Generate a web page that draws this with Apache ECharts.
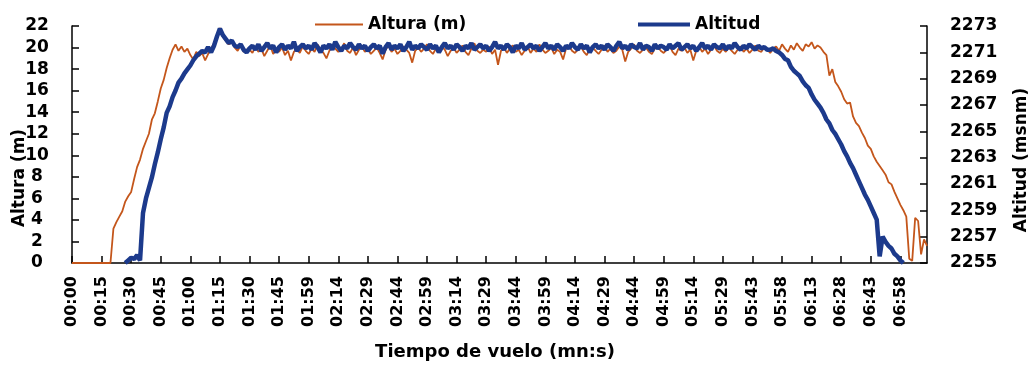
<!DOCTYPE html>
<html>
<head>
<meta charset="utf-8">
<script src="https://cdn.jsdelivr.net/npm/echarts@6/dist/echarts.min.js"></script>
<style>
  html, body { margin: 0; padding: 0; background: #fff; }
  #chart { width: 1034px; height: 368px; }
</style>
</head>
<body>
<div id="chart"></div>
<script>
// Flight profile: height above ground (left) vs GPS altitude (right)

const tickLabels = [
  '00:00', '00:15', '00:30', '00:45', '01:00', '01:15', '01:30', '01:45', '01:59', '02:14',
  '02:29', '02:44', '02:59', '03:14', '03:29', '03:44', '03:59', '04:14', '04:29', '04:44',
  '04:59', '05:14', '05:29', '05:43', '05:58', '06:13', '06:28', '06:43', '06:58',
];
const STEP = 10; // samples between two tick labels

// Altura (m), one sample every ~1.5 s
const altura = [
  0, 0, 0, 0, 0, 0, 0, 0, 0, 0, 0, 0, 0, 0,
  3.2, 3.8, 4.3, 4.8, 5.7, 6.2, 6.6, 7.8, 8.9, 9.6, 10.6, 11.3, 12.0, 13.3, 13.9, 15.0,
  16.2, 17.0, 18.1, 19.0, 19.8, 20.3, 19.7, 20.1, 19.6, 19.9, 19.3, 18.9, 19.6, 19.2, 19.5,
  18.8, 19.4, 19.9, 20.4, 21.2, 21.8, 21.0, 20.6, 20.3, 20.5, 20.0, 19.7, 20.2, 19.6, 19.8,
  19.8, 19.5, 20.1, 19.6, 19.9, 19.2, 19.7, 20.2, 19.4, 19.8, 19.6, 20.0, 19.3, 19.7, 18.8, 19.6, 19.9, 19.5, 20.1, 19.7,
  19.4, 19.9, 19.6, 20.3, 19.8, 19.5, 19.0, 19.7, 20.2, 19.9, 19.6, 19.8, 20.4, 19.7, 19.5, 20.0, 19.3, 19.8, 20.1, 19.6,
  19.9, 19.4, 19.7, 20.0, 19.5, 18.9, 19.8, 20.2, 19.6, 19.9, 19.4, 19.7, 20.1, 19.8, 19.5, 18.6, 19.7, 20.0, 19.6, 19.9,
  20.3, 19.7, 19.4, 19.9, 19.6, 20.1, 19.8, 19.2, 19.7, 20.0, 19.5, 19.8, 20.2, 19.6, 19.3, 19.9, 20.4, 19.7, 19.5, 19.8,
  19.6, 20.1, 19.4, 19.8, 18.4, 19.7, 20.0, 19.5, 19.9, 20.2, 19.6, 19.8, 19.3, 19.7, 20.1, 19.5, 19.9, 19.6, 20.3, 19.8,
  19.5, 19.7, 20.0, 19.4, 19.8, 19.6, 18.9, 19.9, 20.2, 19.7, 19.5, 19.8, 20.1, 19.6, 19.3, 19.9, 20.0, 19.7, 19.4, 19.8,
  20.2, 19.6, 19.9, 19.5, 19.7, 20.1, 19.8, 18.7, 19.6, 19.9, 20.3, 19.7, 19.5, 19.8, 20.0, 19.6, 19.4, 19.9, 20.1, 19.7,
  19.5, 19.8, 20.2, 19.6, 19.3, 19.9, 19.7, 20.0, 19.5, 19.8, 18.8, 19.7, 20.1, 19.6, 19.9, 19.4, 19.8, 20.2, 19.7, 19.5,
  19.9, 19.6, 20.0, 19.7, 19.4, 19.8, 20.1, 19.6, 19.9, 19.5, 19.8, 20.2, 19.7, 19.6, 20.0, 19.8, 19.5, 19.9, 20.1, 19.7,
  20.3, 19.9, 19.6, 20.2, 19.8, 20.4, 20.0, 19.7, 20.3, 20.1, 20.5, 19.9, 20.2,
  20.0, 19.6, 19.3, 17.4, 18.0, 16.8, 16.4, 15.9, 15.2, 14.8, 14.9, 13.6, 13.0, 12.7, 12.1,
  11.6, 10.9, 10.6, 9.9, 9.4, 9.0, 8.6, 8.2, 7.5, 7.3, 6.6, 6.0, 5.4, 4.9, 4.3,
  0.4, 0.2, 4.2, 3.9, 0.8, 2.2, 1.6,
];

// Altitud (msnm), same samples
const altitud = [
  null, null, null, null, null, null, null, null, null, null, null, null, null, null, null, null, null, null,
  2255.0, 2255.2, 2255.4, 2255.3, 2255.6, 2255.2,
  2258.8, 2259.9, 2260.7, 2261.5, 2262.5, 2263.4, 2264.4, 2265.3, 2266.4, 2266.9, 2267.6, 2268.1,
  2268.7, 2269.0, 2269.4, 2269.7, 2270.0, 2270.4, 2270.7, 2270.9, 2271.1, 2271.0, 2271.4, 2271.0,
  2271.5, 2272.2, 2272.8, 2272.3, 2272.0, 2271.7, 2271.9, 2271.5, 2271.4, 2271.6, 2271.2, 2271.0,
  2271.3, 2271.5, 2271.2, 2271.6, 2271.1, 2271.4, 2271.7, 2271.3, 2271.5, 2271.0, 2271.4, 2271.6, 2271.2, 2271.5, 2271.3, 2271.8, 2271.1, 2271.4, 2271.6, 2271.3,
  2271.5, 2271.2, 2271.7, 2271.4, 2271.0, 2271.5, 2271.3, 2271.6, 2271.2, 2271.8, 2271.4, 2271.1, 2271.5, 2271.3, 2271.7, 2271.4, 2271.2, 2271.6, 2271.3, 2271.5,
  2271.1, 2271.4, 2271.6, 2271.3, 2271.5, 2270.9, 2271.4, 2271.7, 2271.2, 2271.5, 2271.3, 2271.6, 2271.1, 2271.4, 2271.8, 2271.2, 2271.5, 2271.3, 2271.6, 2271.4,
  2271.2, 2271.6, 2271.3, 2271.5, 2271.0, 2271.4, 2271.7, 2271.3, 2271.5, 2271.2, 2271.6, 2271.4, 2271.1, 2271.5, 2271.3, 2271.7, 2271.2, 2271.4, 2271.6, 2271.3,
  2271.5, 2271.1, 2271.4, 2271.8, 2271.3, 2271.5, 2271.2, 2271.6, 2271.4, 2271.0, 2271.5, 2271.3, 2271.7, 2271.2, 2271.4, 2271.6, 2271.3, 2271.5, 2271.1, 2271.4,
  2271.7, 2271.3, 2271.5, 2271.2, 2271.6, 2271.4, 2271.1, 2271.5, 2271.3, 2271.7, 2271.4, 2271.2, 2271.6, 2271.3, 2271.5, 2271.0, 2271.4, 2271.6, 2271.3, 2271.5,
  2271.2, 2271.6, 2271.4, 2271.1, 2271.5, 2271.8, 2271.3, 2271.5, 2271.2, 2271.6, 2271.4, 2271.3, 2271.7, 2271.2, 2271.5, 2271.4, 2271.1, 2271.6, 2271.3, 2271.5,
  2271.4, 2271.2, 2271.6, 2271.3, 2271.5, 2271.7, 2271.2, 2271.4, 2271.6, 2271.3, 2271.5, 2271.1, 2271.4, 2271.7, 2271.3, 2271.5, 2271.2, 2271.6, 2271.4, 2271.3,
  2271.6, 2271.2, 2271.5, 2271.3, 2271.7, 2271.4, 2271.2, 2271.5, 2271.3, 2271.6, 2271.4, 2271.2, 2271.5, 2271.3, 2271.4, 2271.2,
  2271.2, 2271.3, 2271.1, 2271.0, 2270.8, 2270.5, 2270.4, 2269.9, 2269.6, 2269.4, 2269.2, 2268.8,
  2268.5, 2268.3, 2267.8, 2267.4, 2267.1, 2266.8, 2266.4, 2265.9, 2265.6, 2265.1, 2264.8, 2264.4,
  2264.0, 2263.5, 2263.1, 2262.6, 2262.2, 2261.7, 2261.2, 2260.7, 2260.2, 2259.8, 2259.3, 2258.8,
  2258.3, 2255.5, 2257.0, 2256.6, 2256.3, 2256.1, 2255.7, 2255.5, 2255.2, 2255.0,
  null, null, null, null, null, null, null, null,
];

const ORANGE = '#c4561b';
const BLUE = '#1c3a8c';
const FONT = 'DejaVu Sans';

const categories = altura.map((_, i) => (i % STEP === 0 ? tickLabels[i / STEP] : ''));
const everyStep = (i) => i % STEP === 0;

const legendText = { fontFamily: FONT, fontWeight: 'bold', fontSize: 17, color: '#000' };
const axisColor = { color: '#000', width: 1.5 };

const chart = echarts.init(document.getElementById('chart'));

chart.setOption({
  animation: false,
  backgroundColor: '#fff',
  textStyle: { fontFamily: FONT, fontWeight: 'bold', color: '#000' },
  legend: [
    {
      data: ['Altura (m)'], left: 310, top: 11,
      icon: 'rect', itemWidth: 48, itemHeight: 2, textStyle: legendText,
    },
    {
      data: ['Altitud'], left: 633, top: 11,
      icon: 'rect', itemWidth: 52, itemHeight: 4, textStyle: legendText,
    },
  ],
  grid: { left: 72, right: 107, top: 26, bottom: 105 },
  xAxis: {
    type: 'category',
    data: categories,
    boundaryGap: false,
    axisLine: { lineStyle: axisColor },
    axisTick: { inside: true, length: 7, interval: everyStep, lineStyle: axisColor },
    axisLabel: {
      interval: everyStep, rotate: 90, margin: 13,
      fontFamily: FONT, fontWeight: 'bold', fontSize: 16, color: '#000',
    },
    splitLine: { show: false },
  },
  yAxis: [
    {
      type: 'value', min: 0, max: 22, interval: 2,
      axisLine: { show: true, lineStyle: axisColor },
      axisTick: { show: true, inside: true, length: 7, lineStyle: axisColor },
      axisLabel: {
        margin: 35, align: 'center',
        fontFamily: FONT, fontWeight: 'bold', fontSize: 17, color: '#000',
      },
      splitLine: { show: false },
    },
    {
      type: 'value', min: 2255, max: 2273, interval: 2, position: 'right',
      axisLine: { show: true, lineStyle: axisColor },
      axisTick: { show: true, inside: true, length: 7, lineStyle: axisColor },
      axisLabel: {
        margin: 23, formatter: (v) => String(v),
        fontFamily: FONT, fontWeight: 'bold', fontSize: 17, color: '#000',
      },
      splitLine: { show: false },
    },
  ],
  graphic: [
    {
      type: 'text', x: 20, y: 178, rotation: Math.PI / 2,
      style: {
        text: 'Altura (m)', fill: '#000', align: 'center', verticalAlign: 'middle',
        font: 'bold 17px "DejaVu Sans"',
      },
    },
    {
      type: 'text', x: 1022, y: 160, rotation: Math.PI / 2,
      style: {
        text: 'Altitud (msnm)', fill: '#000', align: 'center', verticalAlign: 'middle',
        font: 'bold 17px "DejaVu Sans"',
      },
    },
    {
      type: 'text', x: 495, y: 352,
      style: {
        text: 'Tiempo de vuelo (mn:s)', fill: '#000', align: 'center', verticalAlign: 'middle',
        font: 'bold 18px "DejaVu Sans"',
      },
    },
  ],
  series: [
    {
      name: 'Altura (m)', type: 'line', yAxisIndex: 0,
      data: altura, showSymbol: false, symbol: 'none',
      lineStyle: { color: ORANGE, width: 1.8 },
      itemStyle: { color: ORANGE },
    },
    {
      name: 'Altitud', type: 'line', yAxisIndex: 1,
      data: altitud, showSymbol: false, symbol: 'none', connectNulls: false,
      lineStyle: { color: BLUE, width: 4.5 },
      itemStyle: { color: BLUE },
    },
  ],
});
</script>
</body>
</html>
